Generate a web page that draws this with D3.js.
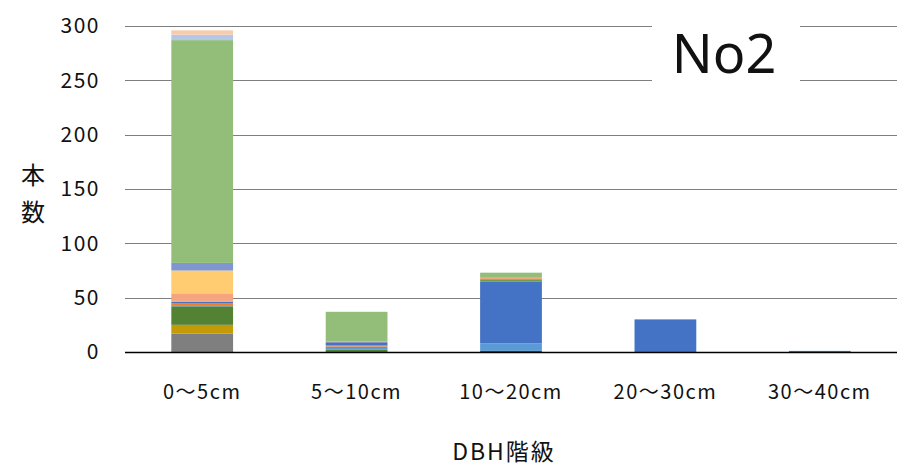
<!DOCTYPE html>
<html>
<head>
<meta charset="utf-8">
<script src="https://cdn.jsdelivr.net/npm/d3@7"></script>
<style>
  body { margin: 0; background: #fff; }
  svg text { font-family: "Noto Sans CJK JP", "Noto Sans", sans-serif; fill: #111; }
</style>
</head>
<body>
<div id="chart"></div>
<script>
// DBH classes
const categories = ['0〜5cm', '5〜10cm', '10〜20cm', '20〜30cm', '30〜40cm'];

// stacked series, bottom to top (values per DBH class)
const seriesNames = ['s1', 's2', 's3', 's4', 's5', 's6', 's7', 's8', 's9', 's10', 's11', 's12', 's13', 's14', 's15', 's16'];
const seriesColors = ['#7f7f7f', '#2f4a7e', '#c49a06', '#548235', '#5b9bd5', '#5f8aa3', '#ed7d31', '#4472c4',
  '#6e9e4a', '#ffc000', '#f4a47e', '#ffcc72', '#7f96d0', '#93be7a', '#b4c7e7', '#f8cbad'];
const s1 = [17, 0, 0, 0, 0];
const s2 = [0, 0, 1, 0, 0];
const s3 = [8, 0, 0, 0, 0];
const s4 = [17, 2, 0, 0, 0];
const s5 = [0, 3, 7, 0, 0];
const s6 = [1, 0, 0, 0, 0];
const s7 = [2, 1, 0, 0, 0];
const s8 = [1, 3, 57, 30, 1];
const s9 = [0, 0, 2, 0, 0];
const s10 = [1, 0, 0, 0, 0];
const s11 = [7, 1, 2, 0, 0];
const s12 = [21, 0, 0, 0, 0];
const s13 = [7, 0, 0, 0, 0];
const s14 = [205, 27, 4, 0, 0];
const s15 = [5, 0, 0, 0, 0];
const s16 = [4, 0, 0, 0, 0];
const seriesValues = [s1, s2, s3, s4, s5, s6, s7, s8, s9, s10, s11, s12, s13, s14, s15, s16];

const yTicks = [0, 50, 100, 150, 200, 250, 300];
const chartTitle = 'No2';
const xTitle = 'DBH階級';
const yTitle = ['本', '数'];

const width = 904, height = 469;
const margin = { top: 26, right: 7, bottom: 117, left: 125 };

const table = categories.map((c, i) => {
  const row = { cat: c };
  seriesNames.forEach((k, j) => { row[k] = seriesValues[j][i]; });
  return row;
});

const svg = d3.select('#chart')
  .append('svg')
  .attr('width', width)
  .attr('height', height);

const x = d3.scaleBand()
  .domain(categories)
  .range([margin.left, width - margin.right])
  .paddingInner(0.6)
  .paddingOuter(0.3);

const y = d3.scaleLinear()
  .domain([0, 300])
  .range([height - margin.bottom, margin.top]);

// gridlines
svg.append('g')
  .selectAll('line')
  .data(yTicks.filter(d => d > 0))
  .enter()
  .append('line')
  .attr('x1', margin.left)
  .attr('x2', width - margin.right)
  .attr('y1', d => Math.round(y(d)) + 0.5)
  .attr('y2', d => Math.round(y(d)) + 0.5)
  .attr('stroke', '#7f7f7f')
  .attr('stroke-width', 1);

// y tick labels
svg.append('g')
  .selectAll('text')
  .data(yTicks)
  .enter()
  .append('text')
  .attr('x', 100)
  .attr('y', d => y(d))
  .attr('dy', '0.35em')
  .attr('text-anchor', 'end')
  .style('font-size', '21px')
  .style('letter-spacing', '1.5px')
  .text(d => d);

// bars
const stack = d3.stack().keys(seriesNames);
const layers = stack(table);

svg.append('g')
  .selectAll('g')
  .data(layers)
  .enter()
  .append('g')
  .attr('fill', (d, i) => seriesColors[i])
  .selectAll('rect')
  .data(d => d.filter(p => p[1] > p[0]))
  .enter()
  .append('rect')
  .attr('x', d => x(d.data.cat))
  .attr('y', d => y(d[1]))
  .attr('width', x.bandwidth())
  .attr('height', d => y(d[0]) - y(d[1]));

// x axis line
svg.append('line')
  .attr('x1', margin.left)
  .attr('x2', width - margin.right)
  .attr('y1', Math.round(y(0)) + 0.5)
  .attr('y2', Math.round(y(0)) + 0.5)
  .attr('stroke', '#000')
  .attr('stroke-width', 1.3);

// category labels
svg.append('g')
  .selectAll('text')
  .data(categories)
  .enter()
  .append('text')
  .attr('x', d => x(d) + x.bandwidth() / 2)
  .attr('y', 399)
  .attr('text-anchor', 'middle')
  .style('font-size', '20px')
  .style('letter-spacing', '1.5px')
  .text(d => d);

// axis titles
svg.append('text')
  .attr('x', 504)
  .attr('y', 460)
  .attr('text-anchor', 'middle')
  .style('font-size', '23px')
  .style('letter-spacing', '2px')
  .text(xTitle);

svg.append('g')
  .selectAll('text')
  .data(yTitle)
  .enter()
  .append('text')
  .attr('x', 33)
  .attr('y', (d, i) => 184 + i * 37)
  .attr('text-anchor', 'middle')
  .style('font-size', '24px')
  .text(d => d);

// title box
svg.append('rect')
  .attr('x', 652)
  .attr('y', 18)
  .attr('width', 148)
  .attr('height', 70)
  .attr('fill', '#fff');

svg.append('text')
  .attr('x', 724)
  .attr('y', 73)
  .attr('text-anchor', 'middle')
  .style('font-family', '"Noto Sans", sans-serif')
  .style('font-size', '54px')
  .text(chartTitle);
</script>
</body>
</html>
